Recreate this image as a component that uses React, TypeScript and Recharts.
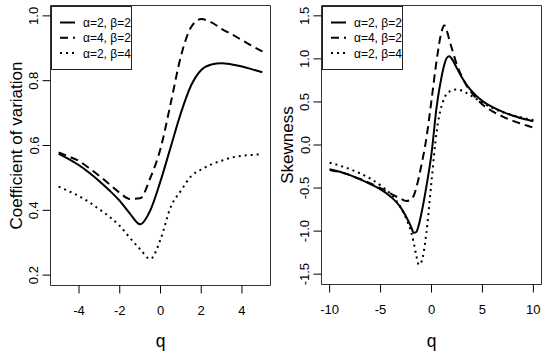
import { LineChart, Line, XAxis, YAxis, ReferenceArea, Legend, Label } from "recharts";

// legend labels (same three parameter sets in both panels)
const seriesNames = ["α=2, β=2", "α=4, β=2", "α=2, β=4"];

// left panel: coefficient of variation vs q
const qCV = [-5, -4.5, -4, -3.5, -3, -2.5, -2, -1.5, -1, -0.5, 0, 0.5, 1, 1.5, 2, 2.5, 3, 3.5, 4, 4.5, 5];
const cvA2B2 = [0.574, 0.558, 0.539, 0.516, 0.49, 0.461, 0.429, 0.39, 0.357, 0.4, 0.49, 0.595, 0.7, 0.785, 0.833, 0.85, 0.854, 0.85, 0.844, 0.835, 0.826];
const cvA4B2 = [0.579, 0.566, 0.552, 0.53, 0.506, 0.48, 0.454, 0.435, 0.437, 0.5, 0.59, 0.73, 0.875, 0.965, 0.99, 0.98, 0.96, 0.943, 0.925, 0.907, 0.89];
const cvA2B4 = [0.473, 0.459, 0.444, 0.425, 0.403, 0.38, 0.352, 0.315, 0.28, 0.25, 0.31, 0.41, 0.46, 0.505, 0.526, 0.542, 0.553, 0.563, 0.568, 0.571, 0.573];
const cvTicksX = [-4, -2, 0, 2, 4];
const cvTicksY = [0.2, 0.4, 0.6, 0.8, 1.0];

// right panel: skewness vs q
const qSK = [-10, -9, -8, -7, -6, -5, -4, -3, -2.5, -2, -1.75, -1.5, -1.25, -1, -0.5, 0, 0.5, 1, 1.25, 1.5, 1.75, 2, 2.5, 3, 3.5, 4, 5, 6, 7, 8, 9, 10];
const skA2B2 = [-0.28, -0.31, -0.35, -0.4, -0.455, -0.515, -0.6, -0.73, -0.83, -0.95, -1.02, -1.01, -0.93, -0.8, -0.48, -0.1, 0.44, 0.8, 0.93, 1.01, 1.03, 1.0, 0.89, 0.78, 0.69, 0.62, 0.51, 0.44, 0.385, 0.34, 0.305, 0.275];
const skA4B2 = [-0.29, -0.315, -0.35, -0.395, -0.445, -0.5, -0.565, -0.625, -0.65, -0.635, -0.59, -0.5, -0.38, -0.24, 0.08, 0.52, 0.98, 1.32, 1.39, 1.33, 1.22, 1.12, 0.93, 0.79, 0.68, 0.6, 0.47, 0.39, 0.33, 0.28, 0.24, 0.2];
const skA2B4 = [-0.205, -0.24, -0.28, -0.33, -0.39, -0.47, -0.57, -0.73, -0.85, -1.01, -1.13, -1.28, -1.39, -1.36, -1.02, -0.42, 0.15, 0.46, 0.54, 0.6, 0.62, 0.635, 0.645, 0.63, 0.6, 0.565, 0.49, 0.43, 0.38, 0.345, 0.315, 0.29];
const skTicksX = [-10, -5, 0, 5, 10];
const skTicksY = [-1.5, -1.0, -0.5, 0.0, 0.5, 1.0, 1.5];

const cvData = qCV.map((q, i) => ({ q, s1: cvA2B2[i], s2: cvA4B2[i], s3: cvA2B4[i] }));
const skData = qSK.map((q, i) => ({ q, s1: skA2B2[i], s2: skA4B2[i], s3: skA2B4[i] }));

const FONT = "'Liberation Sans', Arial, Helvetica, sans-serif";
const NARROW = "'Liberation Sans Narrow', 'Liberation Sans', Arial, sans-serif";
const DASHES = [undefined, "8 5", "2 4"];

function RotTick(props: any) {
  const { x, y, payload } = props;
  return (
    <text x={x} y={y} transform={`rotate(-90, ${x}, ${y})`} textAnchor="middle" fontSize={13} fontFamily={FONT} fill="#000">
      {Number(payload.value).toFixed(1)}
    </text>
  );
}

function yTitle(text: string, bx: number) {
  return (props: any) => {
    const vb = props.viewBox;
    const cy = vb.y + vb.height / 2;
    return (
      <text x={bx} y={cy} transform={`rotate(-90, ${bx}, ${cy})`} textAnchor="middle" fontSize={17} fontFamily={FONT} fill="#000">
        {text}
      </text>
    );
  };
}

function LegendBox() {
  return (
    <svg width={82} height={65} style={{ display: "block" }}>
      <rect x={0.5} y={0.5} width={80} height={63} fill="#fff" stroke="#222" />
      {seriesNames.map((n, i) => {
        const y = 16.5 + i * 15.3;
        return (
          <g key={n}>
            <line x1={9} x2={24} y1={y} y2={y} stroke="#000" strokeWidth={2} strokeDasharray={DASHES[i]} />
            <text x={32} y={y + 4.5} fontSize={12} fontFamily={FONT} fill="#000">
              {n}
            </text>
          </g>
        );
      })}
    </svg>
  );
}

function Panel(props: any) {
  const { data, xDomain, yDomain, xTicks, yTicks, title, yAxisW, right, xH, titleX } = props;
  return (
    <LineChart width={275} height={356} data={data} margin={{ top: 5.5, right, bottom: 0, left: 0 }}>
      <XAxis
        dataKey="q"
        type="number"
        domain={xDomain}
        ticks={xTicks}
        interval={0}
        allowDataOverflow
        axisLine={false}
        tickLine={{ stroke: "#000" }}
        tickSize={8}
        tickMargin={12}
        height={xH}
        tick={{ fill: "#000", fontSize: 13, fontFamily: NARROW }}
      >
        <Label value="q" position="insideBottom" offset={9} fontSize={17.5} fontFamily={NARROW} fill="#000" />
      </XAxis>
      <YAxis
        type="number"
        domain={yDomain}
        ticks={yTicks}
        interval={0}
        allowDataOverflow
        axisLine={false}
        tickLine={{ stroke: "#000" }}
        tickSize={8}
        tickMargin={4}
        width={yAxisW}
        tick={<RotTick />}
      >
        <Label content={yTitle(title, titleX)} />
      </YAxis>
      <ReferenceArea x1={xDomain[0]} x2={xDomain[1]} y1={yDomain[0]} y2={yDomain[1]} fill="none" stroke="#333" strokeWidth={1} ifOverflow="visible" />
      <Legend
        layout="vertical"
        align="center"
        verticalAlign="middle"
        content={() => <LegendBox />}
        wrapperStyle={{ left: yAxisW, top: 5.5, width: 82, height: 65 }}
      />
      {["s1", "s2", "s3"].map((k, i) => (
        <Line
          key={k}
          dataKey={k}
          name={seriesNames[i]}
          type="monotone"
          stroke="#000"
          strokeWidth={2}
          strokeDasharray={DASHES[i]}
          dot={false}
          activeDot={false}
          isAnimationActive={false}
        />
      ))}
    </LineChart>
  );
}

export default function App() {
  return (
    <div style={{ position: "absolute", left: 0, top: 0, width: 550, height: 356, background: "#fff" }}>
      <div style={{ position: "absolute", left: 0, top: 0 }}>
        <Panel
          data={cvData}
          xDomain={[-5.4, 5.4]}
          yDomain={[0.168, 1.032]}
          xTicks={cvTicksX}
          yTicks={cvTicksY}
          title="Coefficient of variation"
          yAxisW={50.5}
          right={4.5}
          xH={70.5}
          titleX={22}
        />
      </div>
      <div style={{ position: "absolute", left: 275, top: 0 }}>
        <Panel
          data={skData}
          xDomain={[-10.8, 10.8]}
          yDomain={[-1.62, 1.62]}
          xTicks={skTicksX}
          yTicks={skTicksY}
          title="Skewness"
          yAxisW={46.5}
          right={8.5}
          xH={71.5}
          titleX={18}
        />
      </div>
    </div>
  );
}
